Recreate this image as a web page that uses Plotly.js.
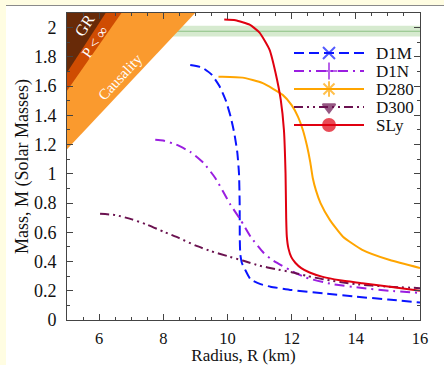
<!DOCTYPE html>
<html><head><meta charset="utf-8">
<script src="https://cdn.plot.ly/plotly-3.0.1.min.js"></script>
<style>
html,body{margin:0;padding:0;background:#fffde2;width:444px;height:365px;overflow:hidden;}
#wrap{position:absolute;left:6px;top:5px;width:438px;height:359px;border-top:1px solid #8a8a8a;background:#fff;}
#chart{width:438px;height:359px;}
</style></head>
<body><div id="wrap"><div id="chart"></div></div>
<script>
// ---- data ----
const seriesNames = ['D1M', 'D1N', 'D280', 'D300', 'SLy'];

const d1mR = [8.84, 9.2, 9.5, 9.75, 9.95, 10.1, 10.22, 10.31, 10.36, 10.38, 10.385, 10.40, 10.45, 10.56, 10.72, 11.03, 11.34, 12.0, 13.0, 14.0, 15.0, 16.0];
const d1mM = [1.745, 1.728, 1.68, 1.60, 1.50, 1.39, 1.27, 1.14, 1.0, 0.8, 0.55, 0.45, 0.39, 0.34, 0.278, 0.245, 0.228, 0.205, 0.182, 0.16, 0.14, 0.12];

const d1nR = [7.75, 8.0, 8.4, 8.84, 9.25, 9.625, 10.09, 10.41, 10.72, 11.125, 11.4, 11.94, 12.44, 13.28, 14.2, 15.06, 16.0];
const d1nM = [1.233, 1.228, 1.2, 1.15, 1.075, 0.97, 0.79, 0.685, 0.57, 0.46, 0.41, 0.342, 0.29, 0.245, 0.219, 0.2, 0.185];

const d280R = [9.72, 9.84, 10.47, 11.1, 11.72, 12.0, 12.2, 12.35, 12.48, 12.58, 12.66, 12.76, 12.9, 13.19, 13.6, 14.2, 15.06, 16.0];
const d280M = [1.664, 1.664, 1.658, 1.62, 1.54, 1.47, 1.39, 1.30, 1.19, 1.08, 0.97, 0.885, 0.80, 0.685, 0.57, 0.48, 0.41, 0.356];

const d300R = [6.03, 6.5, 7.0, 7.5, 8.0, 8.5, 9.0, 9.5, 10.0, 10.5, 11.0, 11.5, 12.0, 12.5, 13.0, 14.0, 15.0, 16.0];
const d300M = [0.726, 0.718, 0.69, 0.652, 0.605, 0.56, 0.51, 0.47, 0.437, 0.405, 0.372, 0.348, 0.327, 0.3, 0.278, 0.245, 0.228, 0.218];

const slyR = [9.9, 10.25, 10.69, 11.0, 11.31, 11.5, 11.66, 11.76, 11.81, 11.83, 11.85, 11.9, 11.99, 12.12, 12.3, 12.56, 12.97, 13.5, 14.2, 15.06, 16.0];
const slyM = [2.055, 2.05, 2.02, 1.966, 1.85, 1.69, 1.507, 1.30, 1.0, 0.7, 0.57, 0.49, 0.43, 0.39, 0.355, 0.325, 0.295, 0.272, 0.252, 0.227, 0.2];

// forbidden regions: M = slope * R
const limitNames = ['Causality', 'P &lt; ∞', 'GR'];
const limitSlopes = [0.2335, 0.3136, 0.3385];

// observed 2 Msun pulsar band
const bandMass = [1.94, 1.975, 2.013]; // low, centre, high

const xTickVals = [6, 8, 10, 12, 14, 16];
const yTickVals = [0, 0.2, 0.4, 0.6, 0.8, 1, 1.2, 1.4, 1.6, 1.8, 2];

// ---- styles ----
const FONT = 'Liberation Serif, DejaVu Serif, serif';
const colors = ['#0a14ff', '#9a1ee0', '#ffa500', '#6b1250', '#e00010'];
const dashes = ['10px,5px', '10px,5px,2px,5px', 'solid', '9px,4px,2px,4px,2px,4px', 'solid'];
const symbols = ['x-thin-open', 'cross-thin-open', 'asterisk-open', 'triangle-down', 'circle'];
const symSizes = [12, 12, 13, 11, 12];
const limitColors = ['#fa9a2e', '#cf4c02', '#682a08'];
const xRange = [5, 16], yRange = [0, 2.1];

const seriesR = [d1mR, d1nR, d280R, d300R, slyR];
const seriesM = [d1mM, d1nM, d280M, d300M, slyM];

const traces = [];
limitSlopes.forEach((k, i) => {
  traces.push({
    x: [xRange[0], xRange[0], yRange[1] / k, xRange[0]],
    y: [k * xRange[0], yRange[1], yRange[1], k * xRange[0]],
    mode: 'lines', fill: 'toself', fillcolor: limitColors[i],
    line: {width: 0, color: limitColors[i]}, hoverinfo: 'skip', showlegend: false
  });
});
seriesNames.forEach((n, i) => {
  traces.push({
    x: seriesR[i], y: seriesM[i], name: n, mode: 'lines',
    line: {color: colors[i], width: 2, dash: dashes[i], shape: 'spline', smoothing: 0.5},
    showlegend: false
  });
});
// custom legend (pixel-like overlay axes)
const legX0 = 294, legX1 = 364, legXm = 329, legTextX = 374, legY0 = 53, legDy = 18;
const annotations = [];
seriesNames.forEach((n, i) => {
  const yy = legY0 + i * legDy;
  traces.push({
    x: [legX0, legXm, legX1], y: [yy, yy, yy], xaxis: 'x2', yaxis: 'y2',
    mode: 'lines+markers', showlegend: false, hoverinfo: 'skip',
    line: {color: colors[i], width: 2, dash: dashes[i]},
    marker: {symbol: symbols[i], size: [0, symSizes[i], 0], color: colors[i],
             line: {color: colors[i], width: 2}}
  });
  annotations.push({
    x: legTextX, y: yy, xref: 'x2', yref: 'y2', text: n, showarrow: false,
    xanchor: 'left', yanchor: 'middle', font: {family: FONT, size: 17, color: '#111'}
  });
});

const limitLabelPos = [[6.66, 1.66, -47, 15], [5.875, 1.90, -55, 15], [5.56, 2.02, -57, 16]];
limitNames.forEach((n, i) => {
  const p = limitLabelPos[i];
  annotations.push({
    x: p[0], y: p[1], xref: 'x', yref: 'y', text: n, showarrow: false,
    textangle: p[2], font: {family: FONT, size: p[3], color: '#ffffff'}
  });
});

const axisCommon = {
  showline: true, mirror: 'allticks', linecolor: '#444', linewidth: 1,
  ticks: 'inside', ticklen: 6, tickwidth: 1, tickcolor: '#444',
  showgrid: false, zeroline: false,
  tickfont: {family: FONT, size: 18, color: '#111'}
};

const layout = {
  width: 438, height: 359,
  margin: {l: 61, r: 24, t: 7, b: 45},
  paper_bgcolor: '#ffffff', plot_bgcolor: '#ffffff',
  showlegend: false,
  xaxis: Object.assign({}, axisCommon, {
    range: xRange, tickvals: xTickVals, ticklabelstandoff: 3,
    tickfont: {family: FONT, size: 16.5, color: '#111'},
    minor: {dtick: 0.5, tick0: 5, ticklen: 3, ticks: 'inside', tickcolor: '#444', showgrid: false},
    title: {text: 'Radius, R (km)', font: {family: FONT, size: 17, color: '#111'}, standoff: 9}
  }),
  yaxis: Object.assign({}, axisCommon, {
    range: yRange, tickvals: yTickVals, ticklabelstandoff: 6,
    minor: {dtick: 0.1, tick0: 0, ticklen: 3, ticks: 'inside', tickcolor: '#444', showgrid: false},
    title: {text: 'Mass, M (Solar Masses)', font: {family: FONT, size: 18, color: '#111'}, standoff: 0}
  }),
  xaxis2: {overlaying: 'x', range: [67, 420], visible: false, fixedrange: true},
  yaxis2: {overlaying: 'y', range: [320, 13], visible: false, fixedrange: true},
  shapes: [
    {type: 'rect', xref: 'paper', yref: 'y', x0: 0, x1: 1, y0: bandMass[0], y1: bandMass[2],
     fillcolor: '#d6eacf', line: {width: 0}, layer: 'below'},
    {type: 'line', xref: 'paper', yref: 'y', x0: 0, x1: 1, y0: bandMass[1], y1: bandMass[1],
     line: {color: '#8cc084', width: 1.2}, layer: 'below'}
  ],
  annotations: annotations
};

Plotly.newPlot('chart', traces, layout, {displayModeBar: false, staticPlot: true});
</script>
</body></html>
